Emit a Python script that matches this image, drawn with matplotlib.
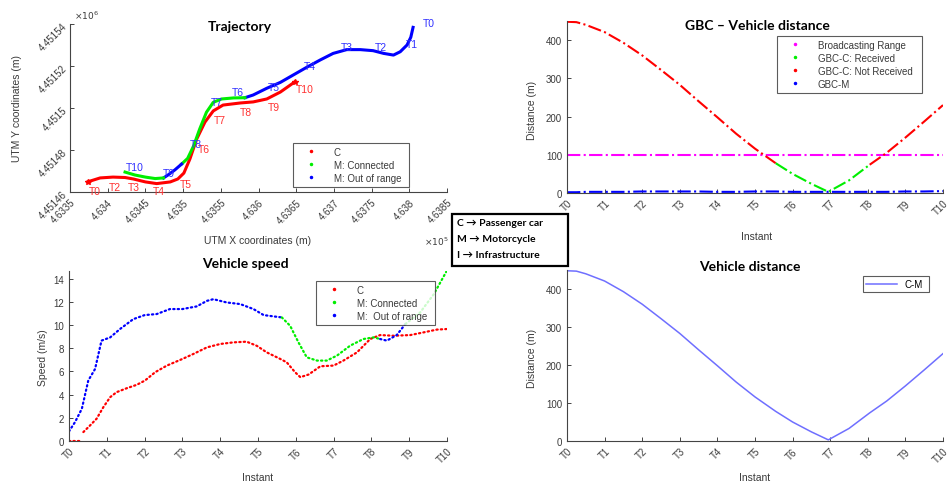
import numpy as np
import matplotlib.pyplot as plt
from matplotlib.lines import Line2D
from matplotlib.patches import Rectangle

plt.rcParams['font.family'] = ['Liberation Sans', 'DejaVu Sans']

W, H = 948, 489

# ---------------- Trajectoire (UTM) ----------------
c_x = [463374, 463390, 463407, 463423, 463434, 463450, 463465, 463483, 463493, 463501,
       463509, 463518, 463529, 463540, 463553, 463576, 463593, 463611, 463629, 463648]
c_y = [4451464.9, 4451466.7, 4451467.1, 4451466.9, 4451466.2, 4451464.8, 4451464.0, 4451464.8,
       4451466.2, 4451469.0, 4451475.7, 4451485.2, 4451493.3, 4451498.6, 4451501.4, 4451502.4,
       4451502.9, 4451504.3, 4451507.6, 4451512.4]

# moto : hors de portée / connectée
m_out1_x = [463805, 463802, 463797, 463788, 463779, 463766, 463752, 463735, 463717,
            463699, 463682, 463664, 463646, 463629, 463611, 463593, 463582]
m_out1_y = [4451538.4, 4451533.7, 4451530.0, 4451526.8, 4451525.2, 4451526.0, 4451527.3,
            4451527.8, 4451527.8, 4451526.0, 4451522.9, 4451519.4, 4451515.7, 4451512.2,
            4451509.4, 4451506.2, 4451504.9]
m_con1_x = [463582, 463567, 463551, 463540, 463531, 463522, 463514, 463506, 463498]
m_con1_y = [4451504.9, 4451504.8, 4451504.3, 4451502.7, 4451498.0, 4451490.0, 4451482.0,
            4451476.0, 4451473.3]
m_out2_x = [463498, 463489, 463480, 463474]
m_out2_y = [4451473.3, 4451470.5, 4451468.1, 4451466.7]
m_con2_x = [463474, 463463, 463450, 463436, 463423]
m_con2_y = [4451466.7, 4451466.4, 4451467.1, 4451468.1, 4451469.5]

c_lab = ['T0', 'T2', 'T3', 'T4', 'T5', 'T6', 'T7', 'T8', 'T9', 'T10']
c_lab_x = [463383, 463410, 463435, 463468, 463504, 463528, 463549, 463583, 463620, 463662]
c_lab_y = [4451460.5, 4451462.5, 4451462.5, 4451460.5, 4451463.8, 4451480.5, 4451494.4,
           4451498.2, 4451500.6, 4451509.0]
m_lab = ['T0', 'T1', 'T2', 'T3', 'T4', 'T5', 'T6', 'T7', 'T8', 'T9', 'T10']
m_lab_x = [463826, 463804, 463762, 463717, 463668, 463620, 463573, 463545, 463517, 463481, 463436]
m_lab_y = [4451540.5, 4451530.4, 4451528.9, 4451528.9, 4451520.1, 4451509.8, 4451507.5,
           4451502.7, 4451482.8, 4451469.0, 4451472.0]

utm_xticks = [463350, 463400, 463450, 463500, 463550, 463600, 463650, 463700, 463750, 463800, 463850]
utm_xlabels = ['4.6335', '4.634', '4.6345', '4.635', '4.6355', '4.636', '4.6365', '4.637',
               '4.6375', '4.638', '4.6385']
utm_yticks = [4451460, 4451480, 4451500, 4451520, 4451540]
utm_ylabels = ['4.45146', '4.45148', '4.4515', '4.45152', '4.45154']

# ---------------- Distance ----------------
t_dist = [0, 0.25, 0.5, 1, 1.5, 2, 2.5, 3, 3.5, 4, 4.5, 5, 5.55, 6, 6.5, 6.95,
          7.5, 8.05, 8.5, 9, 9.5, 10]
dist_cm = [448, 447, 440, 421, 393, 360, 322, 283, 240, 198, 155, 116, 78, 50, 24, 3,
           33, 74, 105, 145, 187, 230]
dist_gbc_m = [2, 2, 3, 3, 3, 4, 4, 4, 4, 3, 3, 4, 4, 3, 3, 3, 3, 3, 3, 4, 4, 5]
broadcast_range = 100
i_rx0, i_rx1 = 12, 17   # indices ou GBC-C est reçu

# ---------------- Vitesse ----------------
t_c_stop = [0, 0.34]
v_c_stop = [0, 0]
t_c = [0.38, 0.56, 0.73, 0.91, 1.09, 1.26, 1.53, 1.79, 2.01, 2.28, 2.59, 3.0, 3.29, 3.65,
       4.0, 4.35, 4.7, 4.97, 5.23, 5.59, 5.76, 5.98, 6.12, 6.34, 6.65, 7.0, 7.26, 7.62,
       7.97, 8.23, 8.59, 9.03, 9.38, 9.73, 10.0]
v_c = [0.77, 1.35, 1.92, 2.92, 3.78, 4.21, 4.55, 4.84, 5.21, 5.93, 6.5, 7.07, 7.5, 8.07,
       8.36, 8.5, 8.56, 8.2, 7.64, 7.07, 6.78, 5.93, 5.5, 5.73, 6.44, 6.5, 6.93, 7.64,
       8.79, 9.13, 9.07, 9.13, 9.36, 9.6, 9.65]
t_m_out1 = [0, 0.16, 0.34, 0.51, 0.69, 0.86, 1.09, 1.35, 1.70, 2.0, 2.32, 2.67, 3.0, 3.38,
            3.65, 3.82, 4.17, 4.53, 4.88, 5.15, 5.41, 5.63]
v_m_out1 = [0.83, 1.63, 2.78, 5.21, 6.21, 8.65, 8.93, 9.65, 10.5, 10.85, 10.94, 11.37, 11.37,
            11.6, 12.08, 12.22, 11.94, 11.8, 11.37, 10.85, 10.74, 10.65]
t_m_con1 = [5.63, 5.85, 6.07, 6.29, 6.56, 6.82, 7.09, 7.44, 7.79, 8.06, 8.23]
v_m_con1 = [10.65, 9.93, 8.5, 7.21, 6.93, 6.93, 7.36, 8.22, 8.79, 8.93, 8.79]
t_m_out2 = [8.23, 8.41, 8.67, 8.9]
v_m_out2 = [8.79, 8.65, 9.13, 10.08]
t_m_con2 = [8.9, 9.29, 9.65, 10.0]
v_m_con2 = [10.08, 11.08, 12.65, 14.7]

instants = list(range(11))
instant_labels = ['T%d' % i for i in instants]

RED, GREEN, BLUE, MAG = '#ff0000', '#00ee00', '#0000ff', '#ff00ff'
GREY = '#444444'
TXT = '#3a3a3a'


def box(l, t, r, b):
    return [l / W, 1 - b / H, (r - l) / W, (b - t) / H]


def ftext(x, y, s, **kw):
    fig.text(x / W, 1 - y / H, s, ha='center', va='center', **kw)


def style(ax):
    for s in ['top', 'right']:
        ax.spines[s].set_visible(False)
    for s in ['left', 'bottom']:
        ax.spines[s].set_color(GREY)
        ax.spines[s].set_linewidth(0.8)
    ax.tick_params(direction='in', length=3, width=0.7, colors=GREY, labelcolor=TXT, labelsize=7)


def instant_axis(ax):
    ax.set_xlim(0, 10)
    ax.set_xticks(instants)
    ax.set_xticklabels(instant_labels, rotation=45, ha='right', va='top', rotation_mode='anchor')


def leg(ax, handles, labels, l, t, r, b):
    lg = ax.legend(handles, labels, loc='upper left', bbox_to_anchor=box(l, t, r, b),
                   bbox_transform=fig.transFigure, mode='expand', fontsize=7, frameon=True,
                   fancybox=False, edgecolor='#333333', handlelength=3, borderaxespad=0,
                   labelspacing=0.3, handletextpad=0.8)
    lg.get_frame().set_linewidth(0.8)
    for t_ in lg.get_texts():
        t_.set_color(TXT)


def dot(c):
    return Line2D([], [], color=c, marker='.', ls='none', markersize=3)


fig = plt.figure(figsize=(W / 100, H / 100), dpi=100)

# ---- 1) Trajectory ----
ax1 = fig.add_axes(box(70, 25, 447, 193))
style(ax1)
ax1.plot(c_x, c_y, color=RED, lw=2.2)
ax1.plot(m_out1_x, m_out1_y, color=BLUE, lw=2.2)
ax1.plot(m_con1_x, m_con1_y, color=GREEN, lw=2.2)
ax1.plot(m_out2_x, m_out2_y, color=BLUE, lw=2.2)
ax1.plot(m_con2_x, m_con2_y, color=GREEN, lw=2.2)
ax1.plot([c_x[0], c_x[-1]], [c_y[0], c_y[-1]], ls='none', marker='*', color=RED, markersize=4)
for s, x, y in zip(c_lab, c_lab_x, c_lab_y):
    ax1.text(x, y, s, color='#ff3030', fontsize=7.5, ha='center', va='center')
for s, x, y in zip(m_lab, m_lab_x, m_lab_y):
    ax1.text(x, y, s, color='#3030ff', fontsize=7.5, ha='center', va='center')
ax1.set_xlim(463350, 463850)
ax1.set_ylim(4451460, 4451540)
ax1.set_xticks(utm_xticks)
ax1.set_xticklabels(utm_xlabels, rotation=45, ha='right', va='top', rotation_mode='anchor')
ax1.set_yticks(utm_yticks)
ax1.set_yticklabels(utm_ylabels, rotation=45, ha='right', va='center', rotation_mode='anchor')
leg(ax1, [dot(RED), dot(GREEN), dot(BLUE)], ['C', 'M: Connected', 'M: Out of range'],
    293, 144, 409, 187)
ftext(240, 27, 'Trajectory', fontsize=10, fontweight='bold', family=['Lato', 'DejaVu Sans'])
ftext(258, 241, 'UTM X coordinates (m)', fontsize=7.5, color=TXT)
ftext(17, 108, 'UTM Y coordinates (m)', fontsize=7.5, color=TXT, rotation=90)
ftext(86, 16, r'$\times10^6$', fontsize=6.5, color=TXT)
ftext(436, 242, r'$\times10^5$', fontsize=6.5, color=TXT)

# ---- 2) GBC - Vehicle distance ----
ax2 = fig.add_axes(box(567, 22, 943, 194))
style(ax2)
ax2.plot([0, 10], [broadcast_range, broadcast_range], color=MAG, ls='-.', lw=1.5)
ax2.plot(t_dist[:i_rx0 + 1], dist_cm[:i_rx0 + 1], color=RED, ls='-.', lw=1.5)
ax2.plot(t_dist[i_rx0:i_rx1 + 1], dist_cm[i_rx0:i_rx1 + 1], color=GREEN, ls='-.', lw=1.5)
ax2.plot(t_dist[i_rx1:], dist_cm[i_rx1:], color=RED, ls='-.', lw=1.5)
ax2.plot(t_dist, dist_gbc_m, color=BLUE, ls='-.', lw=1.5)
instant_axis(ax2)
ax2.set_ylim(0, 450)
ax2.set_yticks([0, 100, 200, 300, 400])
leg(ax2, [dot(MAG), dot(GREEN), dot(RED), dot(BLUE)],
    ['Broadcasting Range', 'GBC-C: Received', 'GBC-C: Not Received', 'GBC-M'],
    777, 37, 922, 93)
ftext(757, 26, 'GBC \u2013 Vehicle distance', fontsize=10, fontweight='bold',
      family=['Lato', 'DejaVu Sans'])
ftext(757, 237, 'Instant', fontsize=7.5, color=TXT)
ftext(532, 110, 'Distance (m)', fontsize=7.5, color=TXT, rotation=90)

# ---- 3) Vehicle speed ----
ax3 = fig.add_axes(box(69, 272, 447, 442))
style(ax3)
dots = dict(ls=(0, (0.6, 1.4)), lw=1.6, dash_capstyle='round')
ax3.plot(t_c_stop, v_c_stop, color=RED, **dots)
ax3.plot(t_c, v_c, color=RED, **dots)
ax3.plot(t_m_out1, v_m_out1, color=BLUE, **dots)
ax3.plot(t_m_con1, v_m_con1, color=GREEN, **dots)
ax3.plot(t_m_out2, v_m_out2, color=BLUE, **dots)
ax3.plot(t_m_con2, v_m_con2, color=GREEN, **dots)
instant_axis(ax3)
ax3.set_ylim(0, 14.65)
ax3.set_yticks(range(0, 15, 2))
leg(ax3, [dot(RED), dot(GREEN), dot(BLUE)], ['C', 'M: Connected', 'M:  Out of range'],
    316, 282, 435, 325)
ftext(245, 264, 'Vehicle speed', fontsize=10, fontweight='bold', family=['Lato', 'DejaVu Sans'])
ftext(258, 478, 'Instant', fontsize=7.5, color=TXT)
ftext(43, 358, 'Speed (m/s)', fontsize=7.5, color=TXT, rotation=90)

# ---- 4) Vehicle distance ----
ax4 = fig.add_axes(box(567, 271, 943, 442))
style(ax4)
ax4.plot(t_dist, dist_cm, color='#6f6fff', lw=1.1, label='C-M')
instant_axis(ax4)
ax4.set_ylim(0, 450)
ax4.set_yticks([0, 100, 200, 300, 400])
lg4 = ax4.legend(loc='upper left', bbox_to_anchor=box(863, 277, 929, 293),
                 bbox_transform=fig.transFigure, mode='expand', fontsize=7, fancybox=False,
                 edgecolor='#333333', handlelength=3.2, borderaxespad=0, borderpad=0.3)
lg4.get_frame().set_linewidth(0.8)
ftext(750, 267, 'Vehicle distance', fontsize=10, fontweight='bold', family=['Lato', 'DejaVu Sans'])
ftext(755, 478, 'Instant', fontsize=7.5, color=TXT)
ftext(532, 358, 'Distance (m)', fontsize=7.5, color=TXT, rotation=90)

# ---- légende des acronymes ----
fig.patches.append(Rectangle((452 / W, 1 - 267 / H), 116 / W, 52 / H, transform=fig.transFigure,
                             fill=True, facecolor='white', edgecolor='black', lw=1.6))
for y, s in zip([224, 240, 256], ['C \u2192 Passenger car', 'M \u2192 Motorcycle',
                                  'I \u2192 Infrastructure']):
    fig.text(457 / W, 1 - y / H, s, ha='left', va='center', fontsize=7.5, fontweight='bold',
             family=['Lato', 'DejaVu Sans'])

fig.savefig('out.png', dpi=100)
